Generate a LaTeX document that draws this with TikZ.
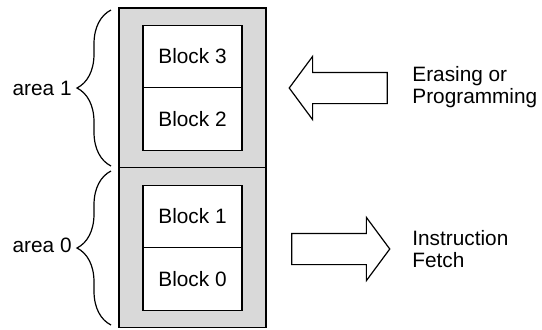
\documentclass[tikz,border=0pt]{standalone}
\usepackage{fontspec}
\setmainfont{Liberation Sans}
\usepackage{tikz}
\usepackage{xcolor}
\usetikzlibrary{shapes.arrows, decorations.pathreplacing, positioning}
\definecolor{flashgray}{RGB}{217, 217, 217}
\tikzstyle{areanode} = [rectangle, minimum width=73.5pt, minimum height=80pt, draw=black, fill=flashgray, line width=0.6pt]
\tikzstyle{blocknode} = [rectangle, minimum width=49.5pt, minimum height=31.25pt, text centered, draw=black, fill=white, line width=0.6pt]
\tikzstyle{bigarrow} = [single arrow, draw=black, fill=white, line width=0.6pt, minimum height=49pt, single arrow head extend=8pt, single arrow tip angle=107, inner xsep=0pt, inner ysep=7.5pt]
\tikzstyle{brace} = [decorate, decoration={brace, amplitude=17pt}, line width=0.6pt]
\tikzstyle{label} = [align=left, inner sep=0pt]

\begin{document}
\begin{tikzpicture}[x=0.5pt, y=-0.5pt, font=\fontsize{10.4}{11}\selectfont]
                \useasboundingbox (0,0) rectangle (542,329);
                \node[areanode] (area1box) at (192.5,88) {};
                \node[areanode] (area0box) at (192.5,247.5) {};
                \node[blocknode] (block3) at (192.5,56.5) {Block 3};
                \node[blocknode] (block2) at (192.5,119) {Block 2};
                \node[blocknode] (block1) at (192.5,216.5) {Block 1};
                \node[blocknode] (block0) at (192.5,279) {Block 0};

                \coordinate (b1top) at (111,10);
                \coordinate (b1bot) at (111,166);
                \coordinate (b0top) at (111,171);
                \coordinate (b0bot) at (111,325);
                \draw[brace] (b1bot) -- (b1top);
                \draw[brace] (b0bot) -- (b0top);
                \node[anchor=east, inner sep=2pt] (area1) at (76,88) {area 1};
                \node[anchor=east, inner sep=2pt] (area0) at (76,245) {area 0};

                \node[bigarrow, shape border rotate=180] (erase) at (344,88) {};
                \node[bigarrow] (fetch) at (335,249) {};
                \node[label, anchor=west] (eraselabel) at (412,87) {Erasing or\\Programming};
                \node[label, anchor=west] (fetchlabel) at (412,249) {Instruction\\Fetch};
            \end{tikzpicture}
\end{document}
